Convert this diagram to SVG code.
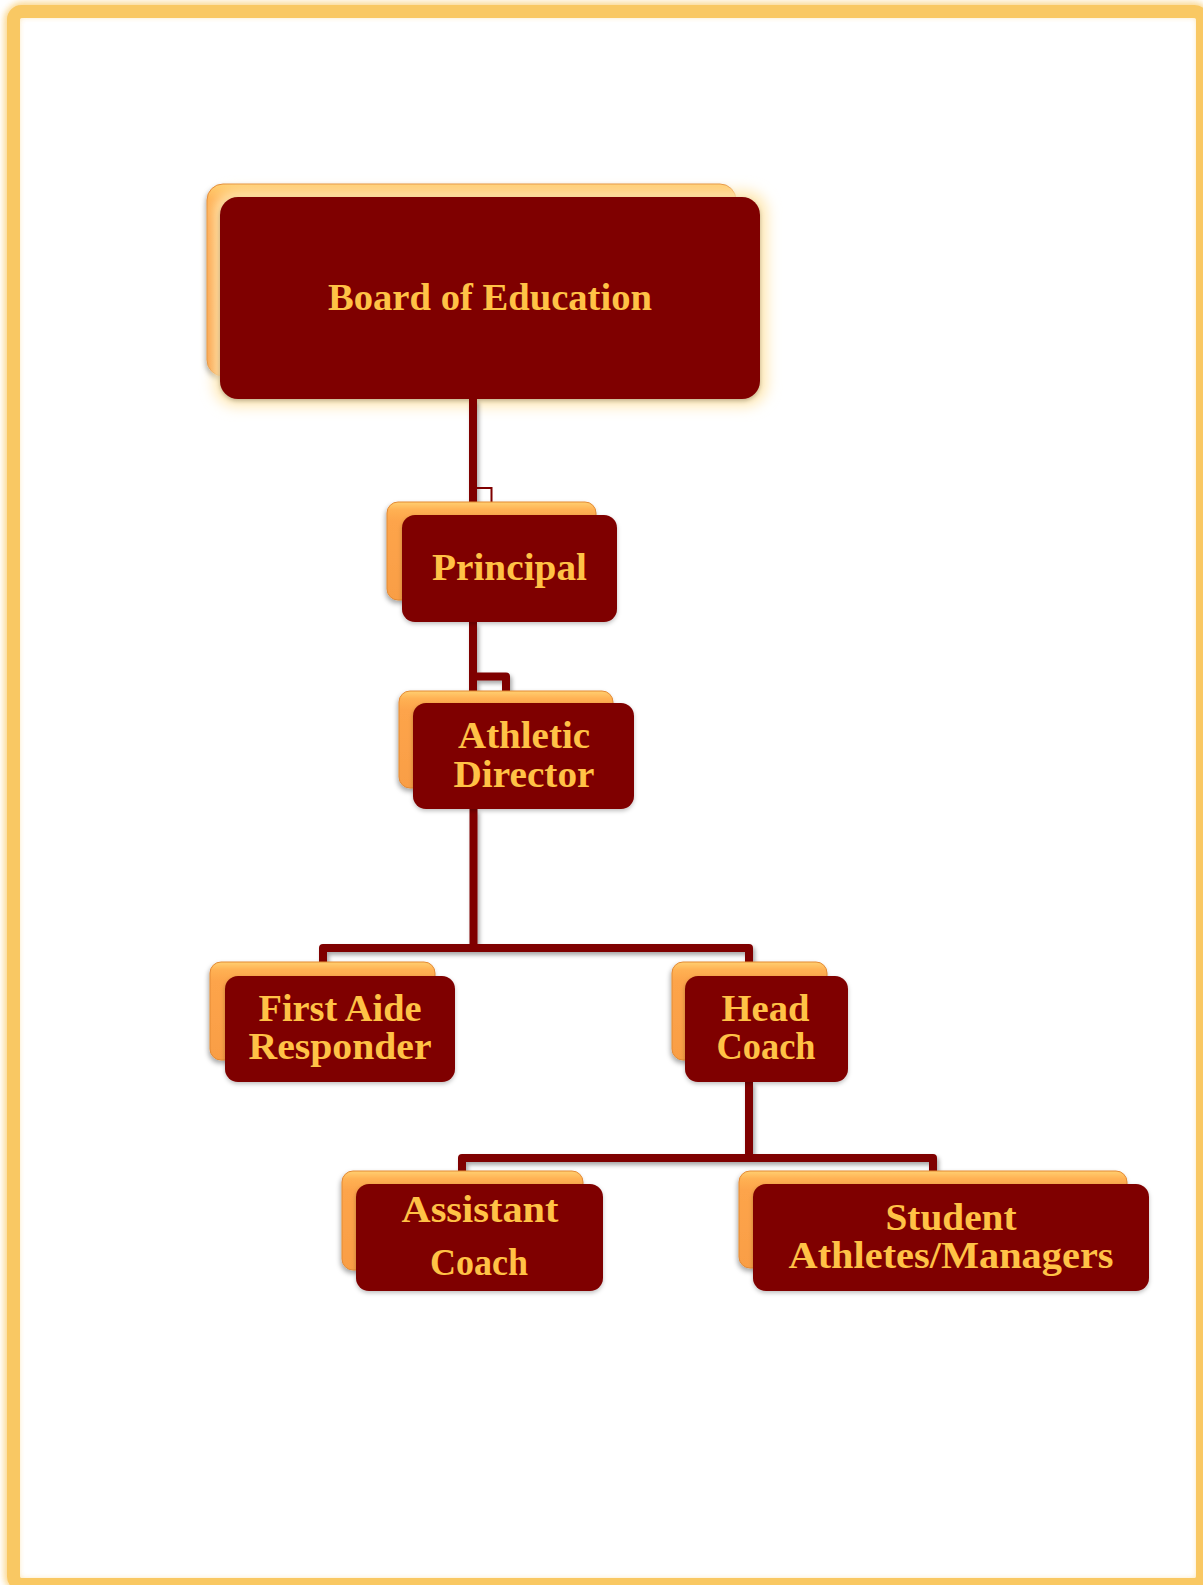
<svg xmlns="http://www.w3.org/2000/svg" width="1203" height="1585" viewBox="0 0 1203 1585">
<defs>
<style>
.back{fill:url(#orangeGrad);stroke:#E38A35;stroke-width:1;filter:url(#shadow)}
.front{fill:#7F0000;filter:url(#shadowSoft)}
.lbl{font-family:"Liberation Serif","DejaVu Serif",serif;font-weight:bold;font-size:38px;fill:#FFC246;text-anchor:middle}
.conn{fill:none;stroke:#7F0000;stroke-width:8;stroke-linejoin:round;stroke-linecap:butt}
.thin{fill:none;stroke:#7F0000;stroke-width:2}
</style>
<linearGradient id="orangeGrad" x1="0" y1="0" x2="0" y2="1">
<stop offset="0" stop-color="#FFCF70"/>
<stop offset="0.08" stop-color="#FFB153"/>
<stop offset="0.2" stop-color="#FDA44B"/>
<stop offset="1" stop-color="#F99E45"/>
</linearGradient>
<filter id="shadow" x="-10%" y="-10%" width="125%" height="130%">
<feDropShadow dx="-1" dy="3" stdDeviation="2.5" flood-color="#000" flood-opacity="0.35"/>
</filter>
<filter id="shadowSoft" x="-10%" y="-10%" width="125%" height="130%">
<feDropShadow dx="0" dy="2" stdDeviation="2" flood-color="#000" flood-opacity="0.25"/>
</filter>
<filter id="lineShadow" x="-10%" y="-10%" width="130%" height="130%">
<feDropShadow dx="2" dy="3" stdDeviation="2" flood-color="#000" flood-opacity="0.35"/>
</filter>
<filter id="glow" x="-10%" y="-20%" width="120%" height="140%">
<feGaussianBlur stdDeviation="7"/>
</filter>
<filter id="frameBlur" x="-5%" y="-5%" width="110%" height="110%">
<feGaussianBlur stdDeviation="3"/>
</filter>
</defs>

<rect x="0" y="0" width="1203" height="1585" fill="#FFFFFF"/>
<g id="frame">
<rect x="11" y="9" width="1194" height="1578" rx="12" fill="none" stroke="#F9C863" stroke-width="14" filter="url(#frameBlur)" opacity="0.7"/>
<rect x="13.5" y="11.5" width="1189" height="1573" rx="8" fill="none" stroke="#F9C863" stroke-width="13"/>
</g>

<g id="board">
<rect x="207" y="184" width="529" height="192" rx="16" class="back"/>
<rect x="214" y="191" width="553" height="215" rx="22" fill="#FFE7B0" filter="url(#glow)"/>
<rect x="220" y="197" width="540" height="202" rx="18" class="front"/>
<text class="lbl" x="490" y="310" textLength="324" lengthAdjust="spacingAndGlyphs">Board of Education</text>
</g>

<g id="connectors">
<g filter="url(#lineShadow)">
<path class="conn" d="M473,399 V515"/>
<path class="conn" d="M473,622 V703"/>
<path class="conn" d="M473,676.5 H506 V692" stroke-width="7"/>
<path class="conn" d="M473.5,809 V948"/>
<path class="conn" d="M323,962 V948 H749 V962"/>
<path class="conn" d="M749,1082 V1158"/>
<path class="conn" d="M462,1171 V1158 H933 V1171"/>
</g>
<path class="thin" d="M476,488 H491.5 V502"/>
</g>

<g id="principal">
<rect x="387" y="502" width="209" height="98" rx="11" class="back"/>
<rect x="402" y="515" width="215" height="107" rx="13" class="front"/>
<text class="lbl" x="509.5" y="580" textLength="155" lengthAdjust="spacingAndGlyphs">Principal</text>
</g>

<g id="athletic-director">
<rect x="399" y="691" width="214" height="97" rx="11" class="back"/>
<rect x="413" y="703" width="221" height="106" rx="13" class="front"/>
<text class="lbl" x="524" y="748" textLength="132" lengthAdjust="spacingAndGlyphs">Athletic</text>
<text class="lbl" x="524" y="787" textLength="141" lengthAdjust="spacingAndGlyphs">Director</text>
</g>

<g id="first-aide-responder">
<rect x="210" y="962" width="225" height="98" rx="11" class="back"/>
<rect x="225" y="976" width="230" height="106" rx="13" class="front"/>
<text class="lbl" x="340" y="1021" textLength="163" lengthAdjust="spacingAndGlyphs">First Aide</text>
<text class="lbl" x="340" y="1059" textLength="183" lengthAdjust="spacingAndGlyphs">Responder</text>
</g>

<g id="head-coach">
<rect x="672" y="962" width="155" height="98" rx="11" class="back"/>
<rect x="685" y="976" width="163" height="106" rx="13" class="front"/>
<text class="lbl" x="765.5" y="1021" textLength="88" lengthAdjust="spacingAndGlyphs">Head</text>
<text class="lbl" x="766" y="1059" textLength="99" lengthAdjust="spacingAndGlyphs">Coach</text>
</g>

<g id="assistant-coach">
<rect x="342" y="1171" width="241" height="99" rx="11" class="back"/>
<rect x="356" y="1184" width="247" height="107" rx="13" class="front"/>
<text class="lbl" x="480" y="1222" textLength="157" lengthAdjust="spacingAndGlyphs">Assistant</text>
<text class="lbl" x="479" y="1275" textLength="98" lengthAdjust="spacingAndGlyphs">Coach</text>
</g>

<g id="student-athletes-managers">
<rect x="739" y="1171" width="388" height="97" rx="11" class="back"/>
<rect x="753" y="1184" width="396" height="107" rx="13" class="front"/>
<text class="lbl" x="951" y="1230" textLength="131" lengthAdjust="spacingAndGlyphs">Student</text>
<text class="lbl" x="951" y="1268" textLength="325" lengthAdjust="spacingAndGlyphs">Athletes/Managers</text>
</g>
</svg>
